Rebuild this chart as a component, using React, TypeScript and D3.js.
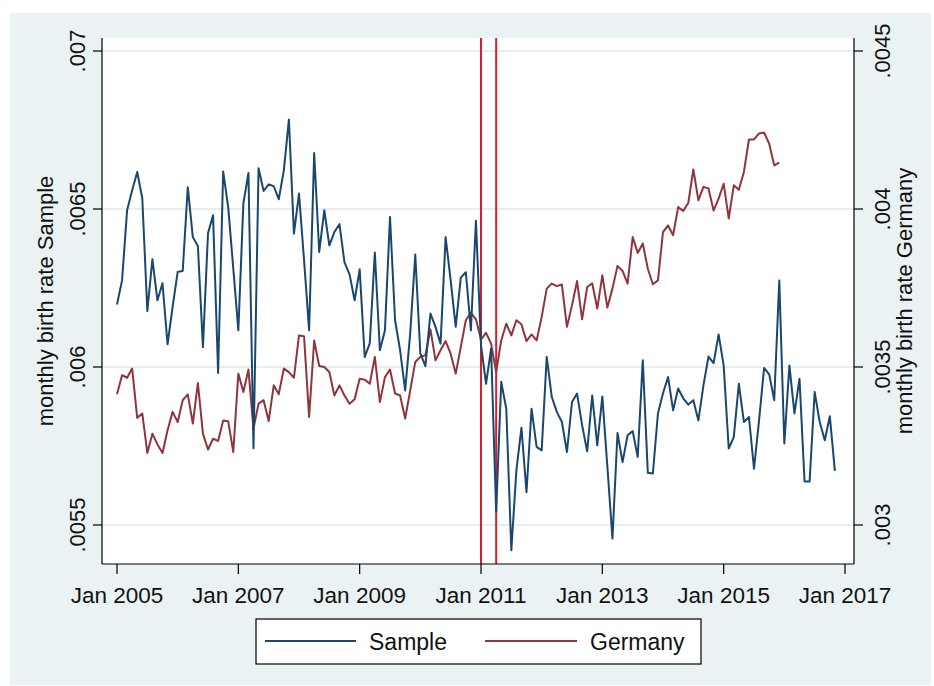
import React from "react";
import * as d3 from "d3";

// Monthly birth rate, Sample: Jan 2005 .. Nov 2016
const sampleValues: number[] = [
  0.006198, 0.006274, 0.006496, 0.006559, 0.006617, 0.006534, 0.006177, 0.006341, 0.006211, 0.006265, 0.006072, 0.00619,
  0.006301, 0.006304, 0.006569, 0.006411, 0.006383, 0.006063, 0.006423, 0.00648, 0.005981, 0.006619, 0.006505, 0.006312,
  0.006116, 0.006518, 0.006614, 0.005743, 0.006629, 0.006557, 0.006578, 0.006572, 0.006531, 0.006622, 0.006783, 0.006422,
  0.006549, 0.006338, 0.006116, 0.006677, 0.006364, 0.006496, 0.006385, 0.006427, 0.006452, 0.006331, 0.006293, 0.006211,
  0.006309, 0.006032, 0.006075, 0.006362, 0.006053, 0.006116, 0.006475, 0.006148, 0.006053, 0.005926, 0.006107, 0.006356,
  0.006043, 0.006003, 0.006169, 0.006127, 0.006074, 0.006411, 0.006274, 0.006127, 0.006283, 0.0063, 0.006116, 0.006463,
  0.006069, 0.005947, 0.006058, 0.005541, 0.005953, 0.005868, 0.00542, 0.005673, 0.005808, 0.005604, 0.005868, 0.005747,
  0.005736, 0.006032, 0.005905, 0.005858, 0.005826, 0.005731, 0.005889, 0.005916, 0.005816, 0.005733, 0.00591, 0.005752,
  0.005907, 0.005684, 0.005457, 0.005791, 0.005699, 0.005784, 0.005797, 0.005715, 0.006021, 0.005665, 0.005663, 0.005853,
  0.005917, 0.005968, 0.005863, 0.005932, 0.005901, 0.005881, 0.005895, 0.005831, 0.005942, 0.006033, 0.006012, 0.006103,
  0.006005, 0.005742, 0.005778, 0.005947, 0.005826, 0.005842, 0.005678, 0.005831, 0.005997, 0.005977, 0.005895, 0.006274,
  0.005758, 0.006005, 0.005853, 0.005963, 0.005638, 0.005638, 0.005921, 0.005826, 0.005768, 0.005844, 0.005671,
];

// Monthly birth rate, Germany: Jan 2005 .. Dec 2015
const germanyValues: number[] = [
  0.003414, 0.003474, 0.003466, 0.003495, 0.003339, 0.003353, 0.003228, 0.003289, 0.003255, 0.003228, 0.0033, 0.003358,
  0.003326, 0.003395, 0.003413, 0.003321, 0.003449, 0.003289, 0.003239, 0.003273, 0.003266, 0.003331, 0.003328, 0.003231,
  0.003479, 0.003421, 0.003492, 0.003305, 0.003384, 0.003395, 0.003329, 0.003442, 0.003414, 0.003495, 0.003484, 0.003466,
  0.0036, 0.003597, 0.003342, 0.003584, 0.003503, 0.0035, 0.003484, 0.00341, 0.003442, 0.00341, 0.003384, 0.003398,
  0.003463, 0.00346, 0.003447, 0.003532, 0.003389, 0.003468, 0.003492, 0.003416, 0.00341, 0.003337, 0.003426, 0.003516,
  0.003532, 0.003537, 0.003619, 0.003521, 0.003553, 0.003582, 0.003542, 0.003479, 0.003563, 0.003648, 0.003672, 0.003651,
  0.003587, 0.003608, 0.003574, 0.003484, 0.003584, 0.003637, 0.0036, 0.003648, 0.003635, 0.003582, 0.003603, 0.003584,
  0.003658, 0.003748, 0.003764, 0.003756, 0.003761, 0.003627, 0.003695, 0.003772, 0.003651, 0.003753, 0.003765, 0.003685,
  0.00379, 0.003688, 0.003748, 0.00382, 0.003804, 0.003764, 0.003911, 0.003861, 0.003891, 0.003811, 0.003762, 0.003774,
  0.003927, 0.003948, 0.003917, 0.004006, 0.003994, 0.004019, 0.004125, 0.004028, 0.00407, 0.004065, 0.003995, 0.004033,
  0.00408, 0.00397, 0.004075, 0.004061, 0.004117, 0.00422, 0.00422, 0.004239, 0.004242, 0.004207, 0.004138, 0.004147,
];

// x ticks: months since Jan 2005
const xTickMonths: number[] = [0, 24, 48, 72, 96, 120, 144];
const xTickLabels: string[] = ["Jan 2005", "Jan 2007", "Jan 2009", "Jan 2011", "Jan 2013", "Jan 2015", "Jan 2017"];
const leftTicks: number[] = [0.0055, 0.006, 0.0065, 0.007];
const leftTickLabels: string[] = [".0055", ".006", ".0065", ".007"];
const rightTicks: number[] = [0.003, 0.0035, 0.004, 0.0045];
const rightTickLabels: string[] = [".003", ".0035", ".004", ".0045"];
const markerMonths: number[] = [72, 75]; // Jan 2011, Apr 2011
const seriesNames: string[] = ["Sample", "Germany"];

const W = 934;
const H = 686;
const plotL = 102;
const plotR = 854;
const plotT = 38;
const plotB = 564;

const BLUE = "#1a476f";
const MAROON = "#90353b";
const RED = "#d81e2c";
const BG = "#eaf2f3";
const GRID = "#e6eef1";
const FONT = "'Liberation Sans', Arial, Helvetica, sans-serif";

export default function App() {
  const x = d3.scaleLinear().domain([0, 144]).range([117, 845]);
  const yL = d3.scaleLinear().domain([0.0055, 0.007]).range([525, 51]);
  const yR = d3.scaleLinear().domain([0.003, 0.0045]).range([525, 51]);

  const lineL = d3
    .line<number>()
    .x((_, i) => x(i))
    .y((d) => yL(d));
  const lineR = d3
    .line<number>()
    .x((_, i) => x(i))
    .y((d) => yR(d));

  const midY = (plotT + plotB) / 2;

  return (
    <svg
      width={W}
      height={H}
      viewBox={`0 0 ${W} ${H}`}
      style={{ position: "absolute", left: 0, top: 0, background: "#ffffff" }}
      fontFamily={FONT}
    >
      <rect x={10} y={13} width={921} height={672} fill={BG} />
      <rect x={plotL} y={plotT} width={plotR - plotL} height={plotB - plotT} fill="#ffffff" />

      {/* grid lines */}
      {leftTicks.map((t) => (
        <line key={"g" + t} x1={plotL} x2={plotR} y1={yL(t)} y2={yL(t)} stroke={GRID} strokeWidth={2} />
      ))}

      {/* vertical markers */}
      {markerMonths.map((m) => (
        <line key={"v" + m} x1={x(m)} x2={x(m)} y1={plotT} y2={plotB} stroke={RED} strokeWidth={2} />
      ))}

      {/* data lines */}
      <path d={lineR(germanyValues) || ""} fill="none" stroke={MAROON} strokeWidth={2} strokeLinejoin="round" />
      <path d={lineL(sampleValues) || ""} fill="none" stroke={BLUE} strokeWidth={2} strokeLinejoin="round" />

      {/* axes frame */}
      <line x1={plotL} x2={plotL} y1={plotT} y2={plotB} stroke="#000" strokeWidth={1.2} />
      <line x1={plotR} x2={plotR} y1={plotT} y2={plotB} stroke="#000" strokeWidth={1.2} />
      <line x1={plotL} x2={plotR} y1={plotB} y2={plotB} stroke="#000" strokeWidth={1.2} />

      {/* left axis */}
      {leftTicks.map((t, i) => (
        <g key={"l" + t}>
          <line x1={plotL - 9} x2={plotL} y1={yL(t)} y2={yL(t)} stroke="#000" strokeWidth={1.2} />
          <text
            transform={`translate(85,${yL(t)}) rotate(-90)`}
            textAnchor="middle"
            fontSize={22}
            fill="#111"
          >
            {leftTickLabels[i]}
          </text>
        </g>
      ))}
      <text transform={`translate(53,${midY}) rotate(-90)`} textAnchor="middle" fontSize={22} fill="#111">
        monthly birth rate Sample
      </text>

      {/* right axis */}
      {rightTicks.map((t, i) => (
        <g key={"r" + t}>
          <line x1={plotR} x2={plotR + 9} y1={yR(t)} y2={yR(t)} stroke="#000" strokeWidth={1.2} />
          <text
            transform={`translate(890,${yR(t)}) rotate(-90)`}
            textAnchor="middle"
            fontSize={22}
            fill="#111"
          >
            {rightTickLabels[i]}
          </text>
        </g>
      ))}
      <text transform={`translate(912,${midY}) rotate(-90)`} textAnchor="middle" fontSize={22} fill="#111">
        monthly birth rate Germany
      </text>

      {/* x axis */}
      {xTickMonths.map((m, i) => (
        <g key={"x" + m}>
          <line x1={x(m)} x2={x(m)} y1={plotB} y2={plotB + 10} stroke="#000" strokeWidth={1.2} />
          <text x={x(m)} y={603} textAnchor="middle" fontSize={22.5} fill="#111">
            {xTickLabels[i]}
          </text>
        </g>
      ))}

      {/* legend */}
      <rect x={256} y={619} width={445} height={45} fill="#ffffff" stroke="#000" strokeWidth={1.2} />
      <line x1={265} x2={356} y1={641} y2={641} stroke={BLUE} strokeWidth={2} />
      <text x={369} y={650} fontSize={23} fill="#111">
        {seriesNames[0]}
      </text>
      <line x1={485} x2={577} y1={641} y2={641} stroke={MAROON} strokeWidth={2} />
      <text x={590} y={650} fontSize={23} fill="#111">
        {seriesNames[1]}
      </text>
    </svg>
  );
}
